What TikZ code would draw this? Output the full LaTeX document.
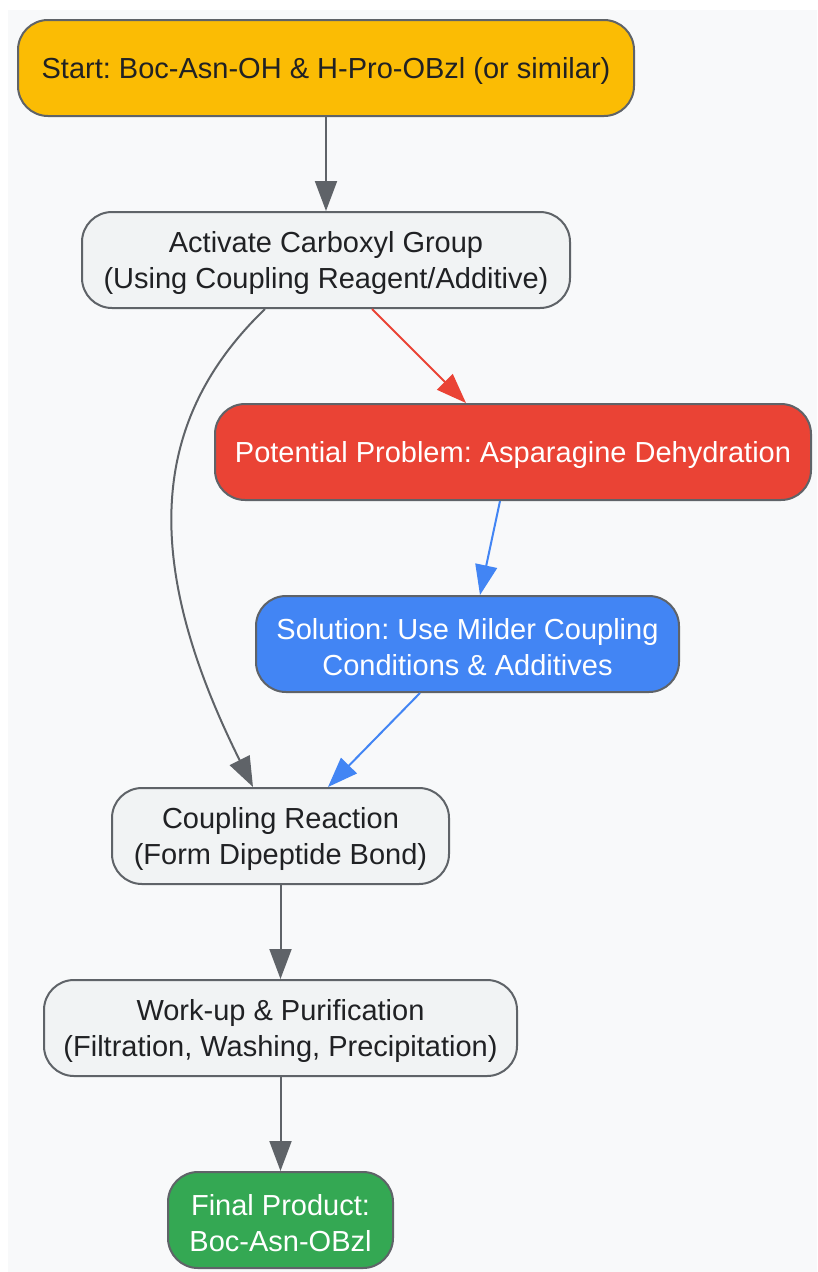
\documentclass[tikz,border=0pt]{standalone}
\usepackage{fontspec}
\setmainfont{Liberation Sans}
\usetikzlibrary{arrows.meta,calc}
\frenchspacing
\definecolor{bg}{HTML}{F8F9FA}
\definecolor{edge}{HTML}{5F6368}
\definecolor{lightfill}{HTML}{F1F3F4}
\definecolor{txt}{HTML}{202124}
\definecolor{gyellow}{HTML}{FBBC04}
\definecolor{gred}{HTML}{EA4335}
\definecolor{gblue}{HTML}{4285F4}
\definecolor{ggreen}{HTML}{34A853}
\tikzset{
  box/.style={draw=edge, line width=2pt, rounded corners=30pt, minimum height=96pt,
    inner sep=0pt, fill=lightfill},
  boxtext/.style={align=center, font=\fontsize{29pt}{36pt}\selectfont\frenchspacing,
    text=#1, yshift=-3pt, inner sep=0pt},
  boxtext/.default=txt,
  link/.style={draw=edge, line width=2pt, -{Triangle[length=30pt,width=22pt]}},
}
\begin{document}
\begin{tikzpicture}[x=1pt,y=-1pt]
\useasboundingbox (0,0) rectangle (817,1272);
\fill[bg] (8,10) rectangle (817,1272);
\node[box, fill=gyellow, minimum width=616pt, label={[boxtext]center:Start: Boc-Asn-OH \& H-Pro-OBzl (or similar)}] (start) at (326,68) {};
\node[box, minimum width=488pt, label={[boxtext]center:Activate Carboxyl Group\\(Using Coupling Reagent/Additive)}] (act) at (326,260) {};
\node[box, fill=gred, minimum width=596pt, label={[boxtext=white]center:Potential Problem: Asparagine Dehydration}] (prob) at (513,452) {};
\node[box, fill=gblue, minimum width=423pt, label={[boxtext=white]center:Solution: Use Milder Coupling\\Conditions \& Additives}] (sol) at (467.5,644) {};
\node[box, minimum width=337pt, label={[boxtext]center:Coupling Reaction\\(Form Dipeptide Bond)}] (coup) at (280.5,836) {};
\node[box, minimum width=473pt, label={[boxtext]center:Work-up \& Purification\\(Filtration, Washing, Precipitation)}] (work) at (280.5,1028) {};
\node[box, fill=ggreen, minimum width=225pt, label={[boxtext=white]center:Final Product:\\Boc-Asn-OBzl}] (fin) at (280.5,1220) {};

\draw[link] (start.south) -- (act.north);
\draw[link, draw=gred] ($(act.south)+(46,0)$) -- ($(prob.north)+(-47,0)$);
\draw[link, draw=gblue] ($(prob.south)+(-13,0)$) -- ($(sol.north)+(12.5,0)$);
\draw[link, draw=gblue] ($(sol.south)+(-47.5,0)$) -- ($(coup.north)+(47.5,0)$);
\draw[link] ($(act.south)+(-61,0)$) .. controls (150,420) and (140,560) .. ($(coup.north)+(-27.5,0)$);
\draw[link] (coup.south) -- (work.north);
\draw[link] (work.south) -- (fin.north);
\end{tikzpicture}
\end{document}
